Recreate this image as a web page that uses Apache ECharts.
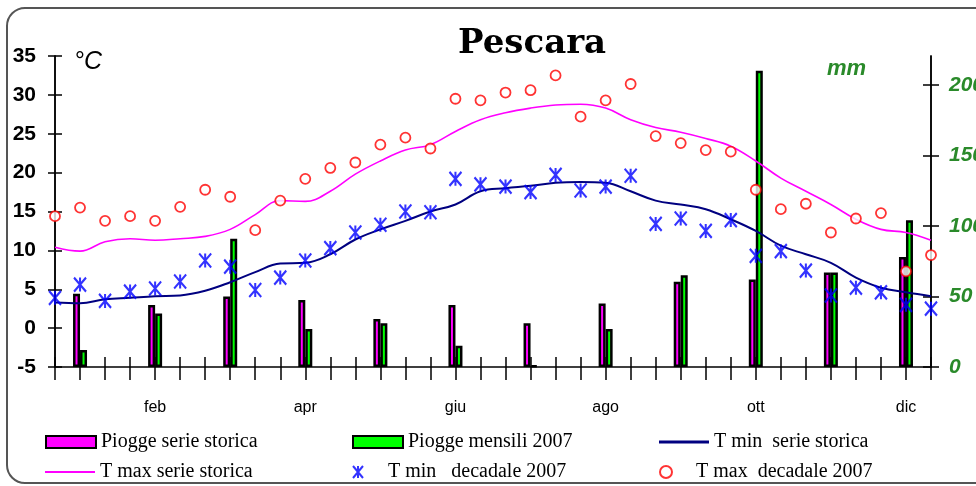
<!DOCTYPE html>
<html>
<head>
<meta charset="utf-8">
<script src="https://cdn.jsdelivr.net/npm/echarts@6/dist/echarts.min.js"></script>
<style>
  html, body { margin: 0; padding: 0; background: #fff; }
  #main { width: 976px; height: 486px; }
</style>
</head>
<body>
<div id="main"></div>
<script>
//*************** dati ***************
var mesi = ['gen', 'feb', 'mar', 'apr', 'mag', 'giu', 'lug', 'ago', 'set', 'ott', 'nov', 'dic'];
var decadiNome = ['I', 'II', 'III'];

// piogge mensili (mm)
var pioggeStorica = [52, 44, 50, 47.5, 34, 44, 31, 45, 60.5, 62, 67, 78];
var pioggeMensili2007 = [12, 38, 91, 27, 31, 15, 1, 27, 65, 210, 67, 104];

// temperature per decade (°C)
var tMinStorica = [3.3, 3.2, 3.7, 3.9, 4.1, 4.2, 4.8, 5.9, 7.2, 8.3, 8.4, 9.5,
                   11.4, 12.7, 13.8, 15.0, 15.9, 17.6, 18.0, 18.3, 18.7, 18.8, 18.7, 17.6,
                   16.4, 15.9, 15.3, 14.0, 12.5, 10.6, 9.5, 8.4, 6.5, 5.2, 4.6, 4.1];
var tMaxStorica = [10.4, 9.9, 11.1, 11.5, 11.3, 11.5, 11.8, 12.7, 14.6, 16.4, 16.3, 17.6,
                   19.8, 21.5, 22.9, 23.6, 25.3, 26.8, 27.7, 28.3, 28.7, 28.8, 28.3, 26.8,
                   25.8, 25.2, 24.4, 23.4, 21.5, 19.3, 17.6, 15.9, 14.0, 12.7, 12.3, 11.3];
var tMinDecadale = [3.9, 5.6, 3.5, 4.7, 5.1, 6.0, 8.7, 7.9, 4.9, 6.5, 8.7, 10.3,
                    12.3, 13.3, 15.0, 14.9, 19.2, 18.5, 18.2, 17.5, 19.7, 17.7, 18.2, 19.6,
                    13.4, 14.1, 12.5, 13.9, 9.3, 9.9, 7.4, 4.2, 5.2, 4.6, 3.0, 2.5];
var tMaxDecadale = [14.4, 15.5, 13.8, 14.4, 13.8, 15.6, 17.8, 16.9, 12.6, 16.4, 19.2, 20.6,
                    21.3, 23.6, 24.5, 23.1, 29.5, 29.3, 30.3, 30.6, 32.5, 27.2, 29.3, 31.4,
                    24.7, 23.8, 22.9, 22.7, 17.8, 15.3, 16.0, 12.3, 14.1, 14.8, 7.3, 9.4];

var mmTicks = [0, 50, 100, 150, 200];

//*************** categorie (36 decadi) ***************
var decadi = [];
mesi.forEach(function (m) {
    decadiNome.forEach(function (d) { decadi.push(m + ' ' + d); });
});

// le barre mensili stanno sulla decade centrale del mese
function barreDecadi(valori) {
    var out = [];
    valori.forEach(function (v) { out.push('-', v, '-'); });
    return out;
}

// una legenda per voce, così le colonne restano allineate
function legenda(voce, left, top, itemHeight) {
    return {
        left: left,
        top: top,
        itemWidth: 50,
        itemHeight: itemHeight || 12,
        data: [voce],
        textStyle: { fontFamily: 'Liberation Serif', fontSize: 20, color: '#000' }
    };
}

var chart = echarts.init(document.getElementById('main'));

var starPath = 'path://M0,0L10,12M10,0L0,12M5,0L5,12';
var fontSans = 'Liberation Sans';
var nero = { color: '#000', width: 1.5 };

var option = {
    animation: false,
    backgroundColor: '#fff',
    title: {
        text: 'Pescara',
        left: 453,
        top: 22,
        textStyle: { fontFamily: 'DejaVu Serif', fontWeight: 'bold', fontSize: 34, color: '#000' }
    },
    graphic: [
        {
            type: 'rect',
            shape: { x: 7, y: 8, width: 1010, height: 475, r: 18 },
            style: { fill: 'none', stroke: '#555', lineWidth: 2 },
            silent: true
        },
        {
            type: 'text', left: 74, top: 50,
            style: { text: '°C', font: 'italic 25px "Liberation Sans"', fill: '#000' }
        },
        {
            type: 'text', left: 827, top: 58,
            style: { text: 'mm', font: 'italic bold 22px "Liberation Sans"', fill: '#2a8a2a' }
        }
    ],
    legend: [
        legenda({ name: 'Piogge serie storica', icon: 'rect' }, 40, 427),
        legenda({ name: 'Piogge mensili 2007', icon: 'rect' }, 347, 427),
        legenda({ name: 'T min  serie storica', icon: 'rect' }, 654, 427, 3),
        legenda({ name: 'T max serie storica', icon: 'rect' }, 40, 457, 2),
        legenda('T min   decadale 2007', 347, 457),
        legenda('T max  decadale 2007', 654, 457)
    ],
    grid: [
        { left: 55, right: 45, top: 56, bottom: 119, outerBoundsMode: 'none', containLabel: false },
        // striscia sottile sopra l'asse: le sue splitLine fanno la parte interna delle tacche
        { left: 55, right: 45, top: 357, height: 10, outerBoundsMode: 'none', containLabel: false }
    ],
    xAxis: [
        {
            type: 'category',
            data: decadi,
            boundaryGap: false,
            position: 'bottom',
            axisLine: { onZero: false, lineStyle: nero },
            axisTick: { interval: 0, length: 13, lineStyle: nero },
            axisLabel: {
                interval: function (index) { return index % 6 === 4; },
                formatter: function (val) { return val.split(' ')[0]; },
                margin: 33,
                fontFamily: fontSans,
                fontSize: 16,
                color: '#000'
            },
            splitLine: { show: false }
        },
        {
            gridIndex: 1,
            type: 'category',
            data: decadi,
            boundaryGap: false,
            axisLine: { show: false },
            axisTick: { show: false },
            axisLabel: { show: false },
            splitLine: { show: true, interval: 0, lineStyle: nero }
        }
    ],
    yAxis: [
        {
            type: 'value',
            position: 'left',
            min: -5, max: 35, interval: 5,
            axisLine: { show: true, lineStyle: nero },
            axisTick: { show: true, length: 7, lineStyle: nero },
            axisLabel: { margin: 19, fontFamily: fontSans, fontWeight: 'bold', fontSize: 21, color: '#000' },
            splitLine: { show: false }
        },
        {
            type: 'value',
            position: 'right',
            min: 0, max: 220.5,
            axisLine: { show: true, lineStyle: nero },
            axisTick: { show: true, customValues: mmTicks, length: 8, lineStyle: nero },
            axisLabel: {
                customValues: mmTicks, margin: 18,
                fontFamily: fontSans, fontWeight: 'bold', fontStyle: 'italic', fontSize: 21, color: '#2a8a2a'
            },
            splitLine: { show: false }
        },
        {
            type: 'value',
            position: 'left',
            min: -5, max: 35, interval: 5,
            axisLine: { show: true, lineStyle: nero },
            axisTick: { show: true, inside: true, length: 7, lineStyle: nero },
            axisLabel: { show: false },
            splitLine: { show: false }
        },
        {
            type: 'value',
            position: 'right',
            min: 0, max: 220.5,
            axisLine: { show: true, lineStyle: nero },
            axisTick: { show: true, inside: true, customValues: mmTicks, length: 8, lineStyle: nero },
            axisLabel: { show: false },
            splitLine: { show: false }
        },
        {
            gridIndex: 1,
            type: 'value',
            min: 0, max: 1,
            show: false
        }
    ],
    series: [
        {
            name: 'Piogge serie storica',
            type: 'bar',
            yAxisIndex: 1,
            barWidth: 7,
            barGap: '0%',
            itemStyle: { color: '#ff00ff', borderColor: '#000', borderWidth: 2.5 },
            data: barreDecadi(pioggeStorica)
        },
        {
            name: 'Piogge mensili 2007',
            type: 'bar',
            yAxisIndex: 1,
            barWidth: 7,
            itemStyle: { color: '#00ff00', borderColor: '#000', borderWidth: 2.5 },
            data: barreDecadi(pioggeMensili2007)
        },
        {
            name: 'T min  serie storica',
            type: 'line',
            yAxisIndex: 0,
            smooth: 0.4,
            symbol: 'none',
            color: '#000080',
            itemStyle: { color: '#000080' },
            lineStyle: { color: '#000080', width: 2 },
            data: tMinStorica
        },
        {
            name: 'T max serie storica',
            type: 'line',
            yAxisIndex: 0,
            smooth: 0.4,
            symbol: 'none',
            color: '#ff00ff',
            itemStyle: { color: '#ff00ff' },
            lineStyle: { color: '#ff00ff', width: 1.6 },
            data: tMaxStorica
        },
        {
            name: 'T min   decadale 2007',
            type: 'scatter',
            yAxisIndex: 0,
            symbol: starPath,
            symbolSize: [12, 14],
            itemStyle: { color: 'rgba(0,0,0,0)', borderColor: '#0000ff', borderWidth: 2.2 },
            z: 5,
            data: tMinDecadale
        },
        {
            name: 'T max  decadale 2007',
            type: 'scatter',
            yAxisIndex: 0,
            symbol: 'circle',
            symbolSize: 10,
            itemStyle: { color: '#fff', borderColor: '#ff0000', borderWidth: 1.8 },
            z: 5,
            data: tMaxDecadale
        },
        {
            // serie vuota che tiene attiva la striscia delle tacche
            type: 'line',
            xAxisIndex: 1,
            yAxisIndex: 4,
            silent: true,
            data: []
        }
    ]
};

chart.setOption(option);
</script>
</body>
</html>
